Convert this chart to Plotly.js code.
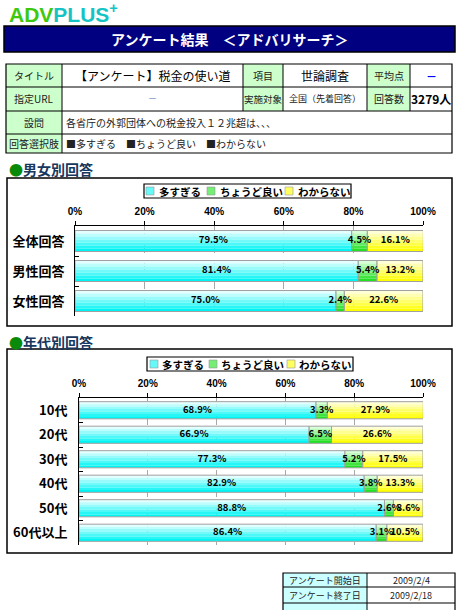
<!DOCTYPE html>
<html>
<head>
<meta charset="utf-8">
<script src="https://cdn.plot.ly/plotly-3.0.1.min.js"></script>
<style>html,body{margin:0;padding:0;background:#fff;}#chart{width:460px;height:610px;}</style>
</head>
<body>
<div id="chart"></div>
<script>
// ---- data ----
const seriesNames = ['多すぎる', 'ちょうど良い', 'わからない'];
const genderCats = ['全体回答', '男性回答', '女性回答'];
const genderTooMuch = [79.5, 81.4, 75.0];
const genderJustRight = [4.5, 5.4, 2.4];
const genderUnknown = [16.1, 13.2, 22.6];
const ageCats = ['10代', '20代', '30代', '40代', '50代', '60代以上'];
const ageTooMuch = [68.9, 66.9, 77.3, 82.9, 88.8, 86.4];
const ageJustRight = [3.3, 6.5, 5.2, 3.8, 2.6, 3.1];
const ageUnknown = [27.9, 26.6, 17.5, 13.3, 8.6, 10.5];
const tickVals = [0, 20, 40, 60, 80, 100];
const tickLabels = ['0%', '20%', '40%', '60%', '80%', '100%'];

// ---- helpers ----
const W = 460, H = 610;
const X = p => p / W;
const Y = p => 1 - p / H;
const JP = '"Noto Sans CJK JP", "Noto Sans", sans-serif';

const grads = [
  ['#e4ffff', '#00f4f4'],
  ['#d8ffd8', '#22e022'],
  ['#ffffd8', '#ffff00']
];
function hex(c){return [1,3,5].map(i=>parseInt(c.substr(i,2),16));}
function mix(a,b,t){const A=hex(a),B=hex(b);return 'rgb('+A.map((v,i)=>Math.round(v+(B[i]-v)*t)).join(',')+')';}

const traces = [];
function addChart(cats, seriesVals, xa, ya) {
  const N = 7, bw = 0.7;
  let base = cats.map(() => 0);
  seriesVals.forEach((vals, s) => {
    const b = base.slice();
    for (let k = 0; k < N; k++) {
      traces.push({
        type: 'bar', orientation: 'h', y: cats, x: vals, base: b,
        width: bw / N, offset: -bw / 2 + k * bw / N,
        marker: {color: mix(grads[s][0], grads[s][1], k / (N - 1)), line: {width: 0}},
        xaxis: xa, yaxis: ya, showlegend: false, hoverinfo: 'skip', name: seriesNames[s]
      });
    }
    traces.push({
      type: 'bar', orientation: 'h', y: cats, x: vals, base: b, width: bw,
      marker: {color: 'rgba(0,0,0,0)', line: {color: '#a0a0a0', width: 1}},
      xaxis: xa, yaxis: ya, showlegend: false, name: seriesNames[s],
      hovertemplate: '%{y}: %{x:.1f}%<extra>' + seriesNames[s] + '</extra>'
    });
    traces.push({
      type: 'scatter', mode: 'text', y: cats,
      x: vals.map((v, i) => b[i] + v / 2),
      text: vals.map(v => v.toFixed(1) + '%'),
      textposition: 'middle center',
      textfont: {size: 9.5, color: '#000', family: JP, weight: 'bold'},
      xaxis: xa, yaxis: ya, showlegend: false, hoverinfo: 'skip', cliponaxis: false
    });
    base = base.map((v, i) => v + vals[i]);
  });
}
addChart(genderCats, [genderTooMuch, genderJustRight, genderUnknown], 'x', 'y');
addChart(ageCats, [ageTooMuch, ageJustRight, ageUnknown], 'x2', 'y2');

const shapes = [], annotations = [];
function rect(x0, y0, x1, y1, fill, lc, lw, layer) {
  shapes.push({type: 'rect', xref: 'paper', yref: 'paper', x0: X(x0), x1: X(x1), y0: Y(y1), y1: Y(y0),
    fillcolor: fill || 'rgba(0,0,0,0)', line: {color: lc || 'rgba(0,0,0,0)', width: lw || 0}, layer: layer || 'below'});
}
function line(x0, y0, x1, y1, c, w) {
  shapes.push({type: 'line', xref: 'paper', yref: 'paper', x0: X(x0), x1: X(x1), y0: Y(y0), y1: Y(y1),
    line: {color: c || '#000', width: w || 1}, layer: 'below'});
}
function text(x, y, t, size, opts) {
  opts = opts || {};
  annotations.push({xref: 'paper', yref: 'paper', x: X(x), y: Y(y), text: t, showarrow: false,
    xanchor: opts.anchor || 'center', yanchor: 'middle',
    font: {size: size, color: opts.color || '#000', family: opts.family || JP, weight: opts.weight || 'normal'}});
}

// logo
text(7, 13, '<span style="color:#3ec80e">ADV</span><span style="color:#14c4c4">PLUS</span><sup>+</sup>', 21,
  {anchor: 'left', family: '"Liberation Sans", Arial, sans-serif', weight: 'bold', color: '#14c4c4'});

// title bar
rect(4, 26, 455, 52, '#000080', '#000', 1.5);
text(229, 39.5, 'アンケート結果　＜アドバリサーチ＞', 14, {color: '#fff', weight: 'bold'});

// info table
const c = [6, 62, 243, 283, 367, 410, 452];
const r = [64, 87, 111, 134, 153];
const lab = '#ccffcc';
rect(c[0], r[0], c[1], r[4], lab);
rect(c[2], r[0], c[3], r[2], lab);
rect(c[4], r[0], c[5], r[2], lab);
rect(c[0], r[0], c[6], r[4], null, '#000', 1.2);
[r[1], r[2], r[3]].forEach(y => line(c[0], y, c[6], y));
line(c[1], r[0], c[1], r[4]);
[c[2], c[3], c[4], c[5]].forEach(x => line(x, r[0], x, r[2]));
const ry = i => (r[i] + r[i + 1]) / 2;
const mx = i => (c[i] + c[i + 1]) / 2;
text(mx(0), ry(0), 'タイトル', 10, {color: '#222'});
text(mx(1), ry(0), '【アンケート】税金の使い道', 12);
text(mx(2), ry(0), '項目', 10, {color: '#222'});
text(mx(3), ry(0), '世論調査', 12);
text(mx(4), ry(0), '平均点', 10, {color: '#222'});
text(mx(5), ry(0), '－', 11, {color: '#0000ff', weight: 'bold'});
text(mx(0), ry(1), '指定URL', 10, {color: '#222'});
text(mx(1), ry(1), '－', 9, {color: '#6688bb'});
text(mx(2), ry(1), '実施対象', 9.5, {color: '#222'});
text(mx(3), ry(1), '全国（先着回答）', 9, {color: '#222'});
text(mx(4), ry(1), '回答数', 10, {color: '#222'});
text(mx(5), ry(1), '3279人', 12, {weight: 'bold'});
text(mx(0), ry(2), '設問', 10, {color: '#222'});
text(64, ry(2), '各省庁の外郭団体への税金投入１２兆超は、、、', 10, {anchor: 'left', color: '#222'});
text(mx(0), ry(3), '回答選択肢', 10, {color: '#222'});
text(64, ry(3), '■多すぎる　■ちょうど良い　■わからない', 10, {anchor: 'left', color: '#222'});

// section titles
text(7, 169, '<span style="color:#0a8a0a">●</span>男女別回答', 14, {anchor: 'left', color: '#17375e', weight: 'bold'});
text(7, 341.5, '<span style="color:#0a8a0a">●</span>年代別回答', 14, {anchor: 'left', color: '#17375e', weight: 'bold'});

// chart boxes
rect(7, 178, 452, 326, null, '#000', 1.5);
rect(7, 349, 452, 553, null, '#000', 1.5);

// legends
function legend(x0, y0, x1, y1, items) {
  rect(x0, y0, x1, y1, '#fff', '#000', 1.2);
  const yc = (y0 + y1) / 2;
  items.forEach((it, s) => {
    rect(it[0], yc - 4, it[0] + 8, yc + 4, mix(grads[s][0], grads[s][1], 0.55), '#999', 0.6);
    text(it[1], yc, seriesNames[s], 10.5, {anchor: 'left', weight: 'bold'});
  });
}
legend(144, 184, 351, 198, [[146, 157], [207, 218], [285, 296]]);
legend(147, 357, 353, 371, [[150, 160], [209, 219], [287, 297]]);

// bottom table
const bc = [283, 367, 455];
const br = [573, 587, 603, 614];
rect(bc[0], br[0], bc[1], br[3], '#ccffff');
rect(bc[0], br[0], bc[2], br[3], null, '#000', 1.2);
[br[1], br[2]].forEach(y => line(bc[0], y, bc[2], y));
line(bc[1], br[0], bc[1], br[3]);
text(325, (br[0] + br[1]) / 2, 'アンケート開始日', 9, {color: '#222'});
text(411, (br[0] + br[1]) / 2, '2009/2/4', 9, {color: '#222'});
text(325, (br[1] + br[2]) / 2, 'アンケート終了日', 9, {color: '#222'});
text(411, (br[1] + br[2]) / 2, '2009/2/18', 9, {color: '#222'});

const xCommon = {
  range: [0, 100], side: 'top', tickvals: tickVals, ticktext: tickLabels,
  showgrid: true, gridcolor: '#a8a8a8', griddash: 'dash', gridwidth: 1,
  showline: true, linecolor: '#000', linewidth: 1, ticks: 'outside', ticklen: 4, tickcolor: '#000',
  tickfont: {size: 10, color: '#000', family: '"Liberation Sans", Arial, sans-serif', weight: 'bold'},
  zeroline: false, fixedrange: true, ticklabelstandoff: 2
};
const yCommon = {
  type: 'category', autorange: 'reversed', showline: true, linecolor: '#000', linewidth: 1,
  ticks: 'inside', tickson: 'boundaries', ticklen: 4, tickcolor: '#000', showgrid: false,
  tickfont: {size: 13, color: '#000', family: JP, weight: 'bold'}, fixedrange: true, ticklabelstandoff: 7
};

const layout = {
  width: W, height: H, margin: {l: 0, r: 0, t: 0, b: 0},
  paper_bgcolor: '#fff', plot_bgcolor: 'rgba(0,0,0,0)',
  barmode: 'overlay', showlegend: false,
  font: {family: JP},
  xaxis: Object.assign({}, xCommon, {domain: [X(75), X(423)], anchor: 'y'}),
  yaxis: Object.assign({}, yCommon, {domain: [Y(316), Y(226)], anchor: 'x'}),
  xaxis2: Object.assign({}, xCommon, {domain: [X(79), X(423)], anchor: 'y2'}),
  yaxis2: Object.assign({}, yCommon, {domain: [Y(545), Y(398)], anchor: 'x2', ticklabelstandoff: 8}),
  shapes: shapes, annotations: annotations
};

Plotly.newPlot('chart', traces, layout, {displayModeBar: false, staticPlot: true});
</script>
</body>
</html>
